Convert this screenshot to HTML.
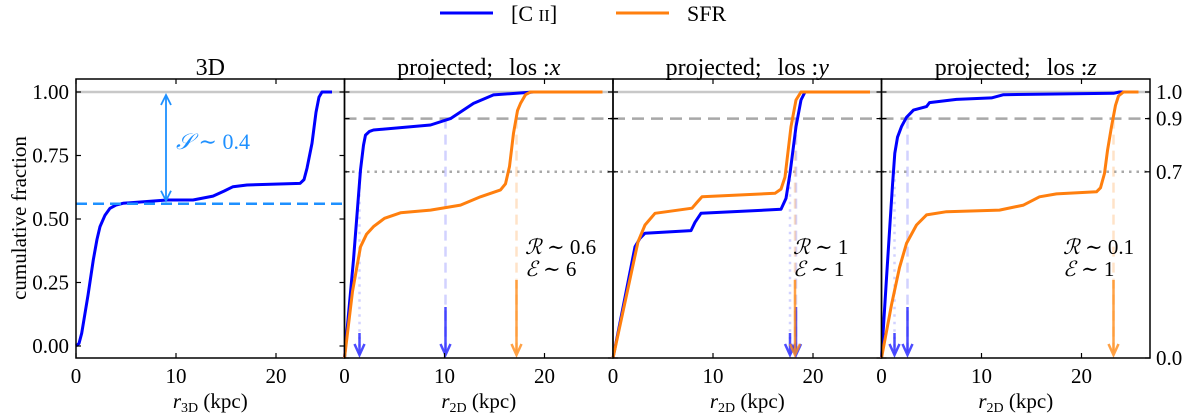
<!DOCTYPE html>
<html><head><meta charset="utf-8">
<style>
html,body{margin:0;padding:0;background:#fff;}
svg{display:block;font-family:"Liberation Serif","DejaVu Serif",serif;}
</style></head>
<body>
<svg id="chart" width="1200" height="418" viewBox="0 0 1200 418" xmlns="http://www.w3.org/2000/svg">
  <g>
    <line x1="440" y1="13" x2="493" y2="13" stroke="#0000ff" stroke-width="3"/>
    <text x="511" y="21" font-size="22">[C <tspan font-size="17">II</tspan>]</text>
    <line x1="616" y1="13" x2="669" y2="13" stroke="#ff7f0e" stroke-width="3"/>
    <text x="687" y="21" font-size="22">SFR</text>
  </g>
  <text transform="translate(26,218) rotate(-90)" text-anchor="middle" font-size="21">cumulative fraction</text>
  <g id="panels"></g>
</svg>
<script>
// ---- data ----
const panelTitles = ["3D", "projected;", "projected;", "projected;"];
const losLabels = ["", "x", "y", "z"];
const leftTicks = [0, 0.25, 0.5, 0.75, 1.0];
const leftTickLabels = ["0.00", "0.25", "0.50", "0.75", "1.00"];
const rightTicks = [1.0, 0.9, 0.7, 0.0];
const rightTickLabels = ["1.0", "0.9", "0.7", "0.0"];
const xTicks = [0, 10, 20];
// 3D [CII]
const p1R = [0, 0.3, 0.57, 1.2, 1.73, 2.1, 2.4, 2.9, 3.4, 4.0, 4.7, 9.1, 11.7, 13.7, 14.8, 15.7, 17.1, 22.4, 22.8, 23.1, 23.6, 24.0, 24.3, 24.6, 25.6];
const p1F = [0, 0.01, 0.05, 0.2, 0.339, 0.42, 0.47, 0.515, 0.542, 0.555, 0.562, 0.575, 0.575, 0.59, 0.61, 0.627, 0.634, 0.64, 0.655, 0.7, 0.798, 0.92, 0.98, 1.0, 1.0];
const shineLevel = 0.56;
// projected los x
const pxBlueR = [0, 0.9, 1.6, 1.9, 2.1, 2.5, 2.9, 8.6, 10.6, 12.9, 14.9, 18.9, 25.8];
const pxBlueF = [0, 0.37, 0.707, 0.8, 0.838, 0.852, 0.857, 0.876, 0.9, 0.957, 0.989, 1.0, 1.0];
const pxOrR = [0, 0.8, 1.6, 2.2, 2.9, 4.0, 5.6, 8.6, 11.6, 13.6, 15.6, 16.1, 16.5, 16.9, 17.3, 17.6, 18.1, 18.6, 25.8];
const pxOrF = [0, 0.25, 0.418, 0.465, 0.494, 0.525, 0.546, 0.556, 0.575, 0.606, 0.632, 0.655, 0.72, 0.845, 0.93, 0.957, 0.99, 1.0, 1.0];
// projected los y
const pyBlueR = [0, 2.2, 2.7, 3.2, 7.8, 8.2, 8.8, 16.8, 17.3, 17.7, 18.3, 18.8, 19.2, 23.7];
const pyBlueF = [0, 0.418, 0.45, 0.469, 0.479, 0.51, 0.544, 0.559, 0.6, 0.694, 0.87, 0.97, 1.0, 1.0];
const pyOrR = [0, 2.5, 3.2, 4.2, 7.9, 8.4, 8.9, 16.2, 16.8, 17.2, 17.8, 18.3, 18.8, 25.7];
const pyOrF = [0, 0.437, 0.5, 0.544, 0.563, 0.585, 0.606, 0.619, 0.635, 0.68, 0.87, 0.97, 1.0, 1.0];
// projected los z
const pzBlueR = [0, 0.5, 0.83, 1.1, 1.33, 1.6, 2.0, 2.5, 3.2, 4.5, 4.8, 7.5, 11.0, 12.2, 23.2, 23.8, 24.3];
const pzBlueF = [0, 0.3, 0.494, 0.65, 0.77, 0.83, 0.87, 0.905, 0.932, 0.945, 0.96, 0.972, 0.978, 0.99, 0.995, 1.0, 1.0];
const pzOrR = [0, 1.0, 1.8, 2.5, 3.5, 4.5, 6.5, 11.8, 14.2, 15.8, 17.5, 21.5, 21.9, 22.3, 22.6, 23.0, 23.4, 23.7, 24.2, 25.7];
const pzOrF = [0, 0.2, 0.34, 0.431, 0.5, 0.538, 0.55, 0.556, 0.575, 0.606, 0.617, 0.625, 0.64, 0.694, 0.78, 0.87, 0.95, 0.985, 1.0, 1.0];
// marker radii: r70 (blue), r90 (blue), r90 (SFR)
const blue70 = [1.5, 17.7, 1.3];
const blue90 = [10.1, 18.3, 2.6];
const sfr90 = [17.2, 18.2, 23.2];
const ratioLabels = ["0.6", "1", "0.1"];
const effLabels = ["6", "1", "1"];
// ---- layout ----
const panelX = [76, 344.5, 613, 881.5];
const panelW = 268.5, topY = 79, bottomY = 358;
const NS = "http://www.w3.org/2000/svg";
const root = document.getElementById("panels");
function mk(tag, attrs, parent){
  const e = document.createElementNS(NS, tag);
  for (const k in attrs) e.setAttribute(k, attrs[k]);
  (parent||root).appendChild(e); return e;
}
function xs(i, r){ return panelX[i] + r*10; }
function y3d(f){ return 346 - f*254; }
function y2d(f){ return 358 - f*266; }
function curve(i, R, F, yf, color, name){
  const pts = R.map((r,k)=> xs(i,r).toFixed(1)+","+yf(F[k]).toFixed(1)).join(" ");
  const p = mk("polyline",{points:pts, fill:"none", stroke:color, "stroke-width":3, "stroke-linejoin":"round"});
  
  
}
function vline(x, y1, y2, color, dash, op, name){
  const l = mk("line",{x1:x,y1:y1,x2:x,y2:y2,stroke:color,"stroke-width":2.5,"stroke-dasharray":dash,opacity:op});
  
  
}
function arrow(x, y1, color, name){
  const g = mk("g",{opacity:0.8});
  
  
  mk("line",{x1:x,y1:y1,x2:x,y2:355,stroke:color,"stroke-width":2.5},g);
  mk("polyline",{points:(x-5)+",344 "+x+",355 "+(x+5)+",344",fill:"none",stroke:color,"stroke-width":2.5},g);
}
for (let i=0;i<4;i++){
  const x0 = panelX[i], x1 = x0+panelW, cx = x0+panelW/2;
  const g1 = mk("line",{x1:x0,y1:92,x2:x1,y2:92,stroke:"#c8c8c8","stroke-width":2.5});
  
  
  if (i>0){
    const g9 = mk("line",{x1:x0,y1:y2d(0.9),x2:x1,y2:y2d(0.9),stroke:"#a8a8a8","stroke-width":2.5,"stroke-dasharray":"12,7"});
    
    
    const g7 = mk("line",{x1:x0,y1:y2d(0.7),x2:x1,y2:y2d(0.7),stroke:"#a8a8a8","stroke-width":2.5,"stroke-dasharray":"2.5,5"});
    
    
  }
  if (i===0){
    curve(0, p1R, p1F, y3d, "#0000ff", "cii-3d-curve");
    const d = mk("line",{x1:x0,y1:y3d(shineLevel),x2:x1,y2:y3d(shineLevel),stroke:"#1e90ff","stroke-width":2.5,"stroke-dasharray":"11,6"});
    
    
    const ax = xs(0,9);
    const ga = mk("g",{stroke:"#1e90ff","stroke-width":1.8,fill:"none"});
    
    
    mk("line",{x1:ax,y1:95,x2:ax,y2:y3d(shineLevel)-3},ga);
    mk("polyline",{points:(ax-5)+",105 "+ax+",95 "+(ax+5)+",105"},ga);
    const yb=y3d(shineLevel)-3;
    mk("polyline",{points:(ax-5)+","+(yb-10)+" "+ax+","+yb+" "+(ax+5)+","+(yb-10)},ga);
    const t = mk("text",{x:176,y:149,"font-size":22,fill:"#1e90ff"});
    
    
    t.innerHTML = '<tspan font-style="italic">𝒮</tspan> ∼ 0.4';
  } else {
    const k=i-1;
    const R=[pxBlueR,pyBlueR,pzBlueR][k], F=[pxBlueF,pyBlueF,pzBlueF][k];
    const RO=[pxOrR,pyOrR,pzOrR][k], FO=[pxOrF,pyOrF,pzOrF][k];
    vline(xs(i,blue70[k]), y2d(0.7), 355, "#8080ff", "2.5,5", 0.35, "cii-r70-marker");
    vline(xs(i,blue90[k]), y2d(0.9), 355, "#8080ff", "10,6", 0.35, "cii-r90-marker");
    vline(xs(i,sfr90[k]), y2d(0.9), 355, "#ffbb77", "10,6", 0.4, "sfr-r90-marker");
    curve(i, R, F, y2d, "#0000ff", "cii-curve-los-"+losLabels[i]);
    curve(i, RO, FO, y2d, "#ff7f0e", "sfr-curve-los-"+losLabels[i]);
    arrow(xs(i,blue70[k]), 333, "#2020ff", "cii-r70-arrow");
    arrow(xs(i,blue90[k]), 307, "#2020ff", "cii-r90-arrow");
    arrow(xs(i,sfr90[k]), 280, "#ff8c1a", "sfr-r90-arrow");
    const tx = [525,793,1063][k];
    const t1 = mk("text",{x:tx,y:254,"font-size":21});
    
    
    t1.innerHTML = '<tspan font-style="italic">ℛ</tspan> ∼ '+ratioLabels[k];
    const t2 = mk("text",{x:tx,y:276,"font-size":21});
    
    
    t2.innerHTML = '<tspan font-style="italic">ℰ</tspan> ∼ '+effLabels[k];
  }
  const fr = mk("rect",{x:x0,y:topY,width:panelW,height:bottomY-topY,fill:"none",stroke:"#000","stroke-width":1.5});
  
  
  const tt = mk("text",{x:cx,y:75,"text-anchor":"middle","font-size":24});
  
  
  tt.innerHTML = i===0 ? panelTitles[0] : panelTitles[i]+'<tspan dx="16">los :</tspan><tspan font-style="italic">'+losLabels[i]+'</tspan>';
  xTicks.forEach(v=>{
    const x = xs(i,v);
    mk("line",{x1:x,y1:bottomY,x2:x,y2:bottomY-5,stroke:"#000","stroke-width":1.2});
    mk("line",{x1:x,y1:topY,x2:x,y2:topY+5,stroke:"#000","stroke-width":1.2});
    const l = mk("text",{x:x,y:383,"text-anchor":"middle","font-size":21});
    
    
    l.textContent = v;
  });
  const xt = mk("text",{x:cx,y:408,"text-anchor":"middle","font-size":21});
  
  
  xt.innerHTML = '<tspan font-style="italic">r</tspan><tspan font-size="14" dy="4">'+(i===0?'3D':'2D')+'</tspan><tspan dy="-4"> (kpc)</tspan>';
  if (i===0){
    leftTicks.forEach((v,j)=>{
      const y=y3d(v);
      mk("line",{x1:x0,y1:y,x2:x0+5,y2:y,stroke:"#000","stroke-width":1.2});
      mk("line",{x1:x1,y1:y,x2:x1-5,y2:y,stroke:"#000","stroke-width":1.2});
      const l = mk("text",{x:69,y:y+7,"text-anchor":"end","font-size":21});
      
      
      l.textContent = leftTickLabels[j];
    });
  } else {
    rightTicks.forEach(v=>{
      const y=y2d(v);
      mk("line",{x1:x0,y1:y,x2:x0+5,y2:y,stroke:"#000","stroke-width":1.2});
      mk("line",{x1:x1,y1:y,x2:x1-5,y2:y,stroke:"#000","stroke-width":1.2});
    });
  }
}
rightTicks.forEach((v,j)=>{
  const l = mk("text",{x:1156,y:y2d(v)+7,"font-size":21});
  
  
  l.textContent = rightTickLabels[j];
});
</script>
</body></html>
